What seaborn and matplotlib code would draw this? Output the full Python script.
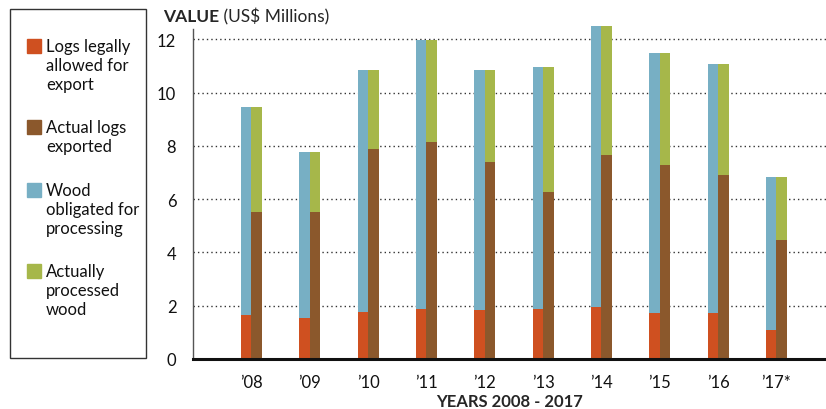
import pandas as pd
import matplotlib.pyplot as plt
import matplotlib.patches as mpatches
import seaborn as sns

years = ["\u201908", "\u201909", "\u201910", "\u201911", "\u201912",
         "\u201913", "\u201914", "\u201915", "\u201916", "\u201917*"]
# left bar: logs legally allowed (bottom) + wood obligated for processing (top)
# right bar: actual logs exported (bottom) + actually processed wood (top)
total_value = [9.45, 7.76, 10.84, 11.97, 10.84, 10.95, 12.49, 11.47, 11.06, 6.82]
logs_allowed = [1.65, 1.54, 1.76, 1.87, 1.84, 1.87, 1.95, 1.72, 1.72, 1.09]
logs_exported = [5.51, 5.51, 7.87, 8.14, 7.39, 6.26, 7.65, 7.28, 6.90, 4.46]

legend_labels = ["Logs legally\nallowed for\nexport", "Actual logs\nexported",
                 "Wood\nobligated for\nprocessing", "Actually\nprocessed\nwood"]
c_orange, c_brown, c_blue, c_green = "#CF5020", "#8B582C", "#77AFC4", "#A6B74A"

sns.set_style("white")
plt.rcParams["font.family"] = ["Lato", "DejaVu Sans"]

tops = pd.DataFrame({"year": years * 2, "side": ["a"] * 10 + ["b"] * 10,
                     "value": total_value + total_value})
bottoms = pd.DataFrame({"year": years * 2, "side": ["a"] * 10 + ["b"] * 10,
                        "value": logs_allowed + logs_exported})

fig = plt.figure(figsize=(8.26, 4.1), dpi=100)
ax = fig.add_axes([193 / 826, 50 / 410, 633 / 826, 333 / 410])

sns.barplot(data=tops, x="year", y="value", hue="side", palette=[c_blue, c_green],
            width=0.36, saturation=1, legend=False, ax=ax, zorder=2,
            linewidth=0, edgecolor="none")
sns.barplot(data=bottoms, x="year", y="value", hue="side", palette=[c_orange, c_brown],
            width=0.36, saturation=1, legend=False, ax=ax, zorder=3,
            linewidth=0, edgecolor="none")

ax.set_xlim(-1, 9.85)
ax.set_ylim(0, 12.5)
ax.set_yticks(range(0, 13, 2))
ax.yaxis.grid(True, linestyle=(0, (1, 2.2)), color="#333333", lw=1)
ax.xaxis.grid(False)
ax.set_axisbelow(True)
for b in ax.patches:
    b.set_clip_on(False)

for s in ["top", "right"]:
    ax.spines[s].set_visible(False)
ax.spines["left"].set_color("#555555")
ax.spines["left"].set_linewidth(1)
ax.spines["left"].set_bounds(0, 12.38)
ax.spines["bottom"].set_color("#111111")
ax.spines["bottom"].set_linewidth(2.2)
ax.spines["bottom"].set_zorder(5)

ax.tick_params(axis="y", length=0, pad=12, labelsize=12, colors="#111111")
ax.tick_params(axis="x", length=8, width=1.3, color="#555555", direction="out",
               pad=3, labelsize=12, labelcolor="#111111")
ax.set_xlabel("YEARS 2008 - 2017", fontsize=12, fontweight="bold", labelpad=2)
ax.set_ylabel("")

t1 = fig.text(163 / 826, 1 - 17 / 410, "VALUE", fontsize=12.5, fontweight="bold",
              va="center", ha="left")
ax.annotate(" (US$ Millions)", xy=(1, 0), xycoords=t1, va="bottom", ha="left",
            fontsize=12.5)

# legend box drawn on the figure
fig.patches.append(mpatches.Rectangle((10 / 826, 1 - 359 / 410), 136 / 826, 349.5 / 410,
                                      transform=fig.transFigure, fill=False,
                                      edgecolor="#333333", lw=1))
leg_colors = [c_orange, c_brown, c_blue, c_green]
leg_y = [47, 128, 191, 272]
for col, lab, y in zip(leg_colors, legend_labels, leg_y):
    fig.patches.append(mpatches.Rectangle((27 / 826, 1 - (y + 7) / 410), 14 / 826, 14 / 410,
                                          transform=fig.transFigure, color=col))
    for i, line in enumerate(lab.split("\n")):
        fig.text(46 / 826, 1 - (y + 19 * i) / 410, line, fontsize=12, va="center",
                 ha="left", color="#111111")

fig.savefig("out.png", dpi=100)
